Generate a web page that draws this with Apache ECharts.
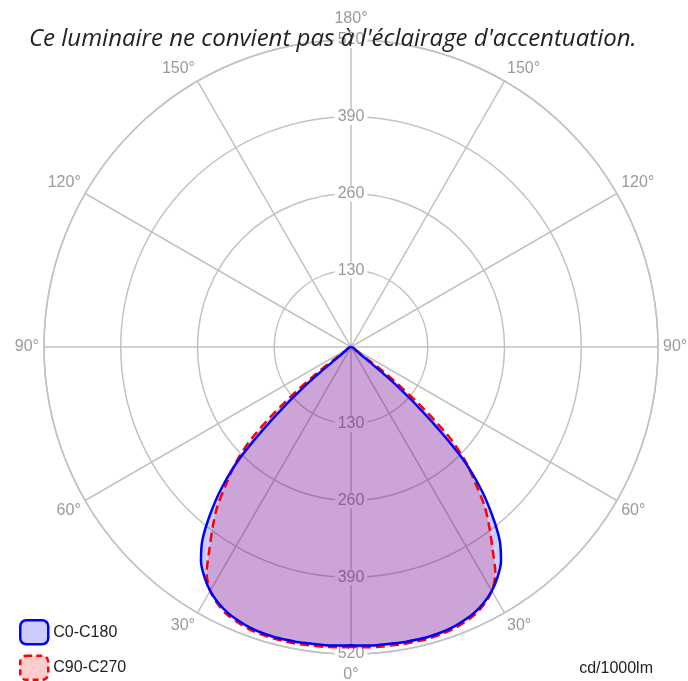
<!DOCTYPE html>
<html>
<head>
<meta charset="utf-8">
<script src="https://cdn.jsdelivr.net/npm/echarts@6/dist/echarts.min.js"></script>
<style>
  html, body { margin: 0; padding: 0; background: #fff; }
  #main { width: 688px; height: 681px; }
</style>
</head>
<body>
<div id="main"></div>
<script>
// gamma angles (deg from nadir) and intensities in cd/1000lm
var gamma = [0, 2.5, 5, 7.5, 10, 12.5, 15, 17.5, 20, 22.5, 25, 27.5, 30, 32.5, 35, 37.5, 40, 42.5, 45, 47.5, 50, 52.5, 55, 57.5, 180];
var c0   = [505, 506, 507, 507, 508, 508, 508, 507, 505, 501, 496, 488, 477, 462, 443, 414, 372, 325, 266, 180, 96, 20, 0, 0, 0];
var c180 = [505, 506, 507, 507, 508, 508, 508, 507, 505, 501, 496, 488, 477, 462, 443, 414, 372, 325, 266, 180, 96, 20, 0, 0, 0];
var c90  = [508, 509, 510, 510, 511, 511, 511, 510, 508, 504, 499, 490, 477, 455, 418, 385, 352, 311, 275, 225, 150, 75, 10, 0, 0];
var c270 = [508, 509, 510, 510, 511, 511, 511, 510, 508, 504, 499, 490, 477, 455, 418, 385, 352, 311, 275, 225, 150, 75, 10, 0, 0];
var radiusTicks = [130, 260, 390, 520];
var angleStep = 30;

var labelFont = 'Liberation Sans';
var gridColor = '#c2c2c2';
var textGray = '#9a9a9a';

// left half = first plane, right half = opposite plane (angle 360 - gamma)
function buildLoop(left, right) {
    var out = [];
    for (var i = 0; i < gamma.length; i++) {
        out.push([left[i], gamma[i]]);
    }
    for (var j = gamma.length - 1; j >= 0; j--) {
        out.push([right[j], 360 - gamma[j]]);
    }
    return out;
}

var myChart = echarts.init(document.getElementById('main'));

var polarCenter = [351, 347];
var polarRadius = 307;

var option = {
    animation: false,
    title: [
        {
            text: "Ce luminaire ne convient pas à l'éclairage d'accentuation.",
            left: 24,
            top: 22,
            textStyle: {
                fontFamily: 'Open Sans',
                fontStyle: 'italic',
                fontWeight: 'normal',
                fontSize: 24,
                color: '#222'
            }
        },
        {
            text: 'cd/1000lm',
            right: 30,
            top: 656,
            textStyle: {
                fontFamily: labelFont,
                fontWeight: 'normal',
                fontSize: 16,
                color: '#222'
            }
        }
    ],
    legend: {
        orient: 'vertical',
        left: 19,
        top: 619,
        padding: 0,
        itemWidth: 28,
        itemHeight: 24,
        itemGap: 9,
        selectedMode: false,
        textStyle: { fontFamily: labelFont, fontSize: 16, color: '#222' },
        data: [
            {
                name: 'C0-C180',
                icon: 'roundRect',
                itemStyle: { color: 'rgba(0,0,255,0.2)', borderColor: '#0000ff', borderWidth: 2.5 }
            },
            {
                name: 'C90-C270',
                icon: 'roundRect',
                itemStyle: { color: 'rgba(255,0,0,0.2)', borderColor: '#ff0000', borderWidth: 2.5, borderType: [6, 4] }
            }
        ]
    },
    polar: [
        { center: polarCenter, radius: polarRadius },
        { center: polarCenter, radius: polarRadius }
    ],
    angleAxis: [
        {
            polarIndex: 0,
            type: 'value',
            min: 0,
            max: 360,
            interval: angleStep,
            startAngle: 270,
            clockwise: true,
            axisLine: { show: true, lineStyle: { color: gridColor, width: 1.5 } },
            axisTick: { show: false },
            splitLine: { show: true, lineStyle: { color: gridColor, width: 1.5 } },
            axisLabel: {
                margin: 5,
                fontFamily: labelFont,
                fontSize: 16,
                color: textGray,
                formatter: function (v) {
                    var d = v <= 180 ? v : 360 - v;
                    if (d === 0 || d === 180) {
                        return '{v|' + d + '°}';
                    }
                    return d + '°';
                },
                rich: {
                    v: { fontFamily: labelFont, fontSize: 16, color: textGray, padding: [8, 0, 8, 0] }
                }
            }
        },
        {
            polarIndex: 1,
            type: 'value',
            min: 0,
            max: 360,
            startAngle: 90,
            axisLine: { show: false },
            axisTick: { show: false },
            splitLine: { show: false },
            axisLabel: { show: false }
        }
    ],
    radiusAxis: [
        {
            polarIndex: 0,
            type: 'value',
            min: 0,
            max: 520,
            interval: 130,
            z: 1,
            axisLine: { show: false },
            axisTick: { show: false },
            splitLine: { show: true, lineStyle: { color: gridColor, width: 1.5 } },
            axisLabel: {
                showMinLabel: false,
                margin: 0,
                align: 'center',
                verticalAlign: 'middle',
                fontFamily: labelFont,
                fontSize: 16,
                color: textGray,
                backgroundColor: '#fff',
                padding: [0, 3],
                formatter: function (v) { return radiusTicks.indexOf(v) >= 0 ? String(v) : ''; }
            }
        },
        {
            polarIndex: 1,
            type: 'value',
            min: 0,
            max: 520,
            interval: 130,
            z: 1,
            axisLine: { show: false },
            axisTick: { show: false },
            splitLine: { show: false },
            axisLabel: {
                showMinLabel: false,
                margin: 0,
                align: 'center',
                verticalAlign: 'middle',
                fontFamily: labelFont,
                fontSize: 16,
                color: textGray,
                backgroundColor: '#fff',
                padding: [0, 3],
                formatter: function (v) { return radiusTicks.indexOf(v) >= 0 ? String(v) : ''; }
            }
        }
    ],
    series: [
        {
            name: 'C90-C270',
            type: 'line',
            coordinateSystem: 'polar',
            polarIndex: 0,
            symbol: 'none',
            smooth: 0.3,
            lineStyle: { color: '#ff0000', width: 2.5, type: [9, 5] },
            itemStyle: { color: '#ff0000' },
            areaStyle: { color: 'rgba(255,0,0,0.2)', opacity: 1 },
            data: buildLoop(c90, c270)
        },
        {
            name: 'C0-C180',
            type: 'line',
            coordinateSystem: 'polar',
            polarIndex: 0,
            symbol: 'none',
            smooth: 0.3,
            lineStyle: { color: '#0000ff', width: 2.5 },
            itemStyle: { color: '#0000ff' },
            areaStyle: { color: 'rgba(0,0,255,0.2)', opacity: 1 },
            data: buildLoop(c0, c180)
        }
    ]
};
myChart.setOption(option);
</script>
</body>
</html>
